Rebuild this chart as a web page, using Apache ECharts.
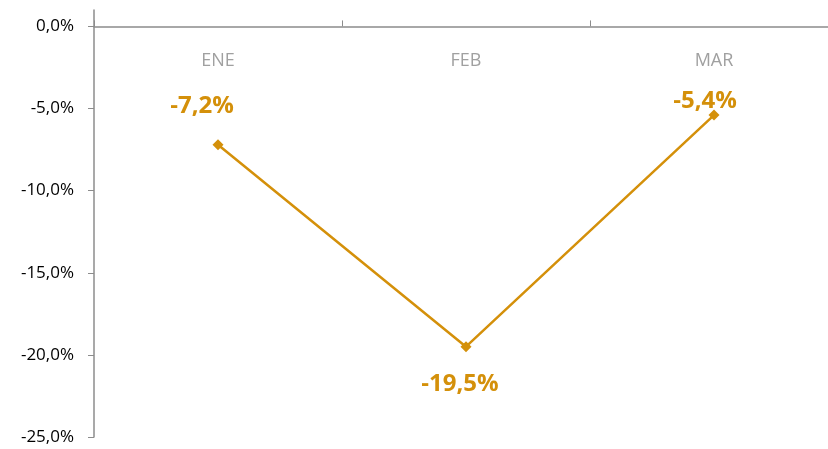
<!DOCTYPE html>
<html>
<head>
<meta charset="utf-8">
<script src="https://cdn.jsdelivr.net/npm/echarts@6/dist/echarts.min.js"></script>
<style>html,body{margin:0;padding:0;background:#fff}#c{width:828px;height:449px}</style>
</head>
<body>
<div id="c"></div>
<script>
var categories = ['ENE', 'FEB', 'MAR'];
var values = [-7.2, -19.5, -5.4];
var yTicks = [-25, -20, -15, -10, -5, 0];

var labelCfg = [
  {position: 'top', distance: 21, offset: [-16, 0]},
  {position: 'bottom', distance: 20, offset: [-6, 0]},
  {position: 'top', distance: 0, offset: [-9, 4]}
];

var gold = '#D4900A';
var chart = echarts.init(document.getElementById('c'));
chart.setOption({
  animation: false,
  grid: {left: 94, right: -10, top: 10, bottom: 12, containLabel: false, outerBoundsMode: 'none'},
  xAxis: {
    type: 'category',
    data: categories,
    position: 'top',
    boundaryGap: true,
    axisLine: {onZero: true, lineStyle: {color: '#8C8C8C', width: 1.5}},
    axisTick: {show: true, inside: false, length: 6, lineStyle: {color: '#8C8C8C'}},
    axisLabel: {inside: true, margin: 42, color: '#A0A0A0', fontSize: 18, fontFamily: 'Open Sans'},
    splitLine: {show: false}
  },
  yAxis: {
    type: 'value',
    min: -25,
    max: 1,
    interval: 5,
    axisLine: {show: true, lineStyle: {color: '#8C8C8C', width: 1.5}},
    axisTick: {show: true, length: 6, customValues: yTicks, lineStyle: {color: '#8C8C8C'}},
    axisLabel: {
      customValues: yTicks,
      margin: 20,
      color: '#000',
      fontSize: 17,
      fontFamily: 'Open Sans',
      formatter: function (v) { return v.toFixed(1).replace('.', ',') + '%'; }
    },
    splitLine: {show: false}
  },
  series: [{
    type: 'line',
    data: values.map(function (v, i) {
      return {
        value: v,
        label: {
          show: true,
          position: labelCfg[i].position,
          distance: labelCfg[i].distance,
          offset: labelCfg[i].offset
        }
      };
    }),
    symbol: 'diamond',
    symbolSize: 11,
    showAllSymbol: true,
    lineStyle: {color: gold, width: 2.5},
    itemStyle: {color: gold},
    label: {
      show: true,
      color: gold,
      fontSize: 24,
      fontWeight: 'bold',
      fontFamily: 'Open Sans',
      formatter: function (p) { return p.value.toFixed(1).replace('.', ',') + '%'; }
    }
  }]
});
</script>
</body>
</html>
